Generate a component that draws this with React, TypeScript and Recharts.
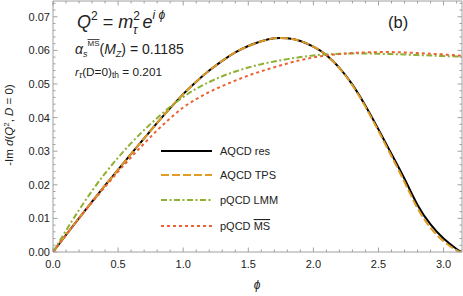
import React from 'react';
import { LineChart, Line, XAxis, YAxis, ReferenceArea } from 'recharts';

// ---- data ----
const phi = [0, 0.1, 0.2, 0.3, 0.4, 0.5, 0.6, 0.7, 0.8, 0.9, 1.0, 1.1, 1.2, 1.3, 1.4, 1.5, 1.6, 1.7, 1.8, 1.9, 2.0, 2.1, 2.2, 2.3, 2.4, 2.5, 2.6, 2.7, 2.8, 2.9, 3.0, 3.1, 3.14159];
const aqcdRes = [0, 0.0051, 0.0101, 0.0150, 0.0198, 0.0245, 0.0292, 0.0338, 0.0384, 0.0428, 0.0470, 0.0507, 0.0540, 0.0569, 0.0594, 0.0613, 0.0627, 0.0636, 0.0636, 0.0628, 0.0611, 0.0586, 0.0548, 0.0498, 0.0435, 0.0365, 0.0292, 0.0218, 0.0140, 0.0082, 0.0040, 0.0009, 0];
const aqcdTps = [0, 0.0051, 0.0101, 0.0150, 0.0198, 0.0245, 0.0292, 0.0338, 0.0384, 0.0428, 0.0470, 0.0507, 0.0540, 0.0569, 0.0594, 0.0613, 0.0627, 0.0636, 0.0636, 0.0628, 0.0611, 0.0586, 0.0547, 0.0496, 0.0432, 0.0360, 0.0285, 0.0208, 0.0130, 0.0072, 0.0032, 0.0005, 0];
const pqcdLmm = [0, 0.0064, 0.0125, 0.0182, 0.0234, 0.0281, 0.0324, 0.0363, 0.0399, 0.0432, 0.0461, 0.0486, 0.0506, 0.0523, 0.0537, 0.0549, 0.0559, 0.0567, 0.0574, 0.0580, 0.0585, 0.0588, 0.0590, 0.0591, 0.0591, 0.0590, 0.0589, 0.0588, 0.0586, 0.0585, 0.0583, 0.0582, 0.0581];
const pqcdMs = [0, 0.0051, 0.0100, 0.0148, 0.0194, 0.0239, 0.0282, 0.0323, 0.0362, 0.0398, 0.0430, 0.0455, 0.0476, 0.0494, 0.0510, 0.0525, 0.0538, 0.0550, 0.0561, 0.0571, 0.0579, 0.0585, 0.0589, 0.0592, 0.0594, 0.0595, 0.0595, 0.0594, 0.0592, 0.0590, 0.0588, 0.0585, 0.0584];

const seriesNames = ['AQCD res', 'AQCD TPS', 'pQCD LMM', 'pQCD '];

const xMajor = [0, 0.5, 1.0, 1.5, 2.0, 2.5, 3.0];
const xMajorLabels = ['0.0', '0.5', '1.0', '1.5', '2.0', '2.5', '3.0'];
const xTicks = [0, 0.1, 0.2, 0.3, 0.4, 0.5, 0.6, 0.7, 0.8, 0.9, 1.0, 1.1, 1.2, 1.3, 1.4, 1.5, 1.6, 1.7, 1.8, 1.9, 2.0, 2.1, 2.2, 2.3, 2.4, 2.5, 2.6, 2.7, 2.8, 2.9, 3.0, 3.1];
const yMajor = [0, 0.01, 0.02, 0.03, 0.04, 0.05, 0.06, 0.07];
const yMajorLabels = ['0.00', '0.01', '0.02', '0.03', '0.04', '0.05', '0.06', '0.07'];
const yTicks = [0, 0.002, 0.004, 0.006, 0.008, 0.01, 0.012, 0.014, 0.016, 0.018, 0.02, 0.022, 0.024, 0.026, 0.028, 0.03, 0.032, 0.034, 0.036, 0.038, 0.04, 0.042, 0.044, 0.046, 0.048, 0.05, 0.052, 0.054, 0.056, 0.058, 0.06, 0.062, 0.064, 0.066, 0.068, 0.07, 0.072, 0.074];

const data = phi.map((p, i) => ({ phi: p, res: aqcdRes[i], tps: aqcdTps[i], lmm: pqcdLmm[i], ms: pqcdMs[i] }));

// ---- layout ----
const W = 463, H = 296;
const M = { top: 1, right: 1, left: 0, bottom: 0 };
const YW = 53, XH = 44;
const PLOT_TOP = M.top;
const PLOT_BOTTOM = H - M.bottom - XH;
const PLOT_LEFT = M.left + YW;
const PLOT_RIGHT = W - M.right;
const FRAME = '#a0a0a0';
const TXT = '#222';
const FONT = '"Liberation Sans", Arial, sans-serif';

const C_RES = '#000000';
const C_TPS = '#E19C24';
const C_LMM = '#8FB032';
const C_MS = '#EB6235';
const D_TPS = '8 3';
const D_LMM = '6 2.5 2 2.5';
const D_MS = '3 3';

const idx = (arr: number[], v: number) => arr.findIndex((m) => Math.abs(m - v) < 1e-6);

function XTick(props: any) {
  const { x, payload } = props;
  const mi = idx(xMajor, payload.value);
  const len = mi >= 0 ? 4.5 : 2.5;
  return (
    <g>
      <line x1={x} x2={x} y1={PLOT_BOTTOM} y2={PLOT_BOTTOM - len} stroke={FRAME} strokeWidth={1} />
      <line x1={x} x2={x} y1={PLOT_TOP} y2={PLOT_TOP + len} stroke={FRAME} strokeWidth={1} />
      {mi >= 0 && (
        <text x={x} y={PLOT_BOTTOM + 16} textAnchor="middle" fontSize={11} fontFamily={FONT} fill={TXT}>
          {xMajorLabels[mi]}
        </text>
      )}
    </g>
  );
}

function YTick(props: any) {
  const { y, payload } = props;
  const mi = idx(yMajor, payload.value);
  const len = mi >= 0 ? 4.5 : 2.5;
  return (
    <g>
      <line x1={PLOT_LEFT} x2={PLOT_LEFT + len} y1={y} y2={y} stroke={FRAME} strokeWidth={1} />
      <line x1={PLOT_RIGHT} x2={PLOT_RIGHT - len} y1={y} y2={y} stroke={FRAME} strokeWidth={1} />
      {mi >= 0 && (
        <text x={PLOT_LEFT - 3} y={y + 4} textAnchor="end" fontSize={11} fontFamily={FONT} fill={TXT}>
          {yMajorLabels[mi]}
        </text>
      )}
    </g>
  );
}

const legendRows = [
  { name: seriesNames[0], color: C_RES, dash: undefined as string | undefined, y: 151 },
  { name: seriesNames[1], color: C_TPS, dash: D_TPS, y: 175 },
  { name: seriesNames[2], color: C_LMM, dash: D_LMM, y: 200 },
  { name: seriesNames[3], color: C_MS, dash: D_MS, y: 226 },
];

function Overlay() {
  return (
    <svg width={W} height={H} style={{ position: 'absolute', left: 0, top: 0, pointerEvents: 'none' }} fontFamily={FONT}>
      {/* Q^2 = m_tau^2 e^{i phi} */}
      <text x={77} y={28} fontSize={18} fill={TXT}>
        <tspan fontStyle="italic">Q</tspan>
        <tspan fontSize={12} dy={-8}>2</tspan>
        <tspan dy={8}> = </tspan>
        <tspan fontStyle="italic">m</tspan>
        <tspan fontSize={12} dy={-8}>2</tspan>
        <tspan fontSize={12} fontStyle="italic" dx={-7} dy={14}>τ</tspan>
        <tspan dy={-6}> </tspan>
        <tspan fontStyle="italic">e</tspan>
        <tspan fontSize={12} fontStyle="italic" dy={-9}>i ϕ</tspan>
      </text>
      {/* alpha_s^{MS}(M_Z) = 0.1185 */}
      <text x={75} y={54} fontSize={14} fill={TXT}>
        <tspan fontStyle="italic">α</tspan>
        <tspan fontSize={9} fontStyle="italic" dy={3}>s</tspan>
        <tspan fontSize={8} dy={-11} style={{ textDecoration: 'overline' }}>MS</tspan>
        <tspan dy={8}>(</tspan>
        <tspan fontStyle="italic">M</tspan>
        <tspan fontSize={9} fontStyle="italic" dy={3}>Z</tspan>
        <tspan dy={-3}>) = 0.1185</tspan>
      </text>
      {/* r_tau(D=0)_th = 0.201 */}
      <text x={75} y={76} fontSize={11.8} fill={TXT}>
        <tspan fontStyle="italic">r</tspan>
        <tspan fontSize={8.5} fontStyle="italic" dy={2}>τ</tspan>
        <tspan dy={-2}>(D=0)</tspan>
        <tspan fontSize={8.5} dy={2}>th</tspan>
        <tspan dy={-2}> = 0.201</tspan>
      </text>
      <text x={388} y={28} fontSize={16.5} fill={TXT}>(b)</text>
      {/* y axis title */}
      <text transform="translate(13,125) rotate(-90)" textAnchor="middle" fontSize={11.5} fill={TXT}>
        <tspan>-Im </tspan>
        <tspan fontStyle="italic">d</tspan>
        <tspan>(</tspan>
        <tspan fontStyle="italic">Q</tspan>
        <tspan fontSize={8} dy={-4}>2</tspan>
        <tspan dy={4}>, </tspan>
        <tspan fontStyle="italic">D</tspan>
        <tspan> = 0)</tspan>
      </text>
      {/* x axis title */}
      <text x={257} y={289} textAnchor="middle" fontSize={12} fontStyle="italic" fill={TXT}>ϕ</text>
      {/* legend */}
      {legendRows.map((r, i) => (
        <g key={i}>
          <line x1={161} x2={212} y1={r.y} y2={r.y} stroke={r.color} strokeWidth={2} strokeDasharray={r.dash} />
          <text x={220} y={r.y + 4} fontSize={11} fill={TXT}>
            {r.name}
            {i === 3 && <tspan style={{ textDecoration: 'overline' }}>MS</tspan>}
          </text>
        </g>
      ))}
    </svg>
  );
}

export default function App() {
  return (
    <div style={{ position: 'absolute', left: 0, top: 0, width: W, height: H, background: '#fff' }}>
      <LineChart width={W} height={H} data={data} margin={M}>
        <XAxis
          dataKey="phi"
          type="number"
          domain={[0, Math.PI]}
          ticks={xTicks}
          interval={0}
          tick={<XTick />}
          tickLine={false}
          axisLine={false}
          height={XH}
          allowDataOverflow
        />
        <YAxis
          type="number"
          domain={[0, 0.0747]}
          ticks={yTicks}
          interval={0}
          tick={<YTick />}
          tickLine={false}
          axisLine={false}
          width={YW}
          allowDataOverflow
        />
        <ReferenceArea x1={0} x2={Math.PI} y1={0} y2={0.0747} fill="none" stroke={FRAME} strokeWidth={1} ifOverflow="visible" />
        <Line dataKey="res" type="natural" stroke={C_RES} strokeWidth={2} dot={false} isAnimationActive={false} />
        <Line dataKey="tps" type="natural" stroke={C_TPS} strokeWidth={2} strokeDasharray={D_TPS} dot={false} isAnimationActive={false} />
        <Line dataKey="lmm" type="natural" stroke={C_LMM} strokeWidth={2} strokeDasharray={D_LMM} dot={false} isAnimationActive={false} />
        <Line dataKey="ms" type="natural" stroke={C_MS} strokeWidth={2} strokeDasharray={D_MS} dot={false} isAnimationActive={false} />
      </LineChart>
      <Overlay />
    </div>
  );
}
